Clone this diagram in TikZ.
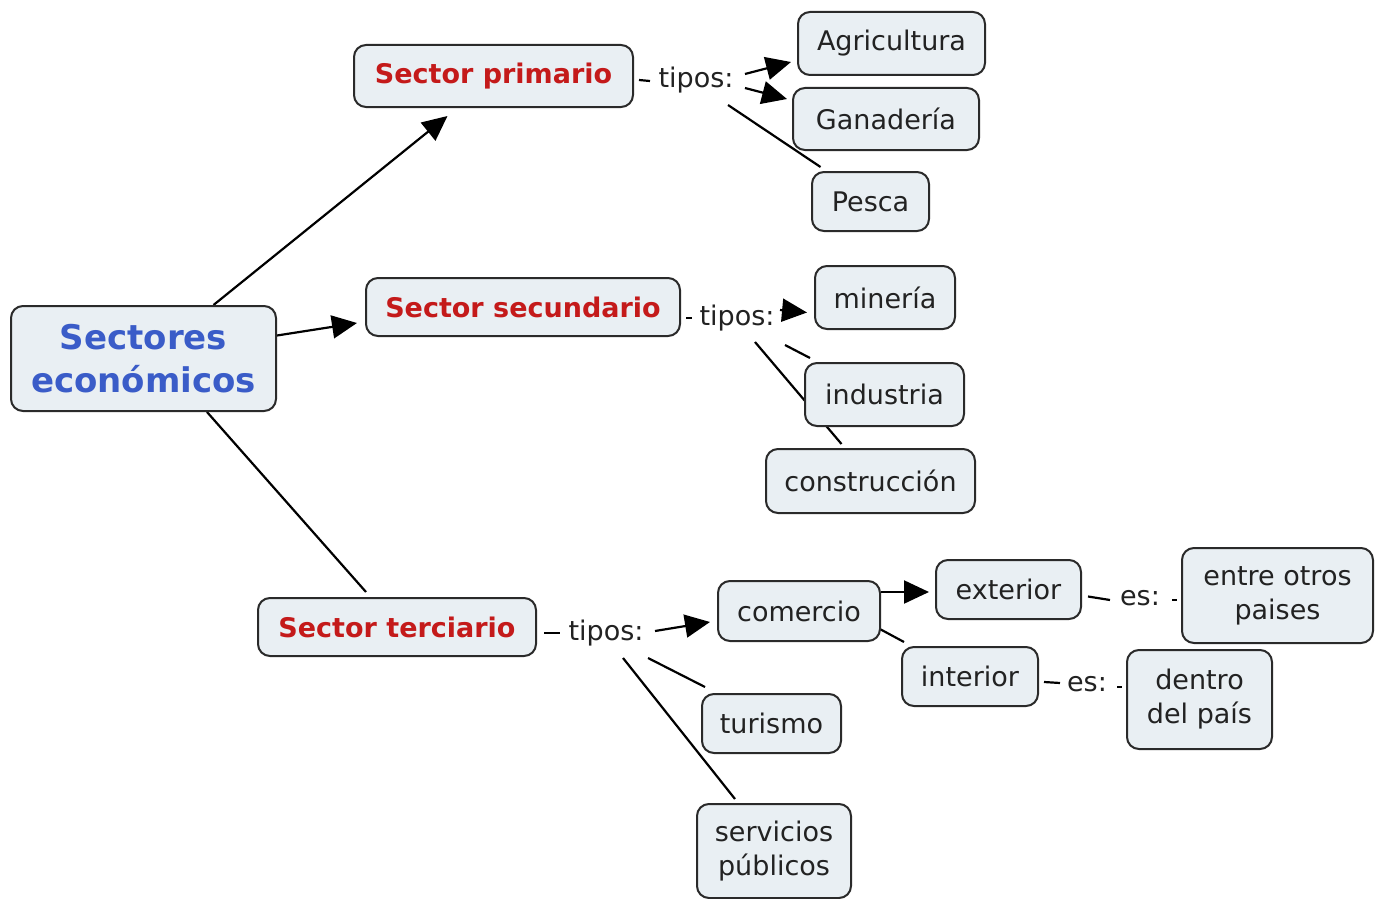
\documentclass[tikz,border=0pt]{standalone}
\usepackage{fontspec}
\setmainfont{DejaVu Sans}
\usetikzlibrary{arrows.meta,backgrounds}
\definecolor{boxfill}{HTML}{E9EFF3}
\definecolor{boxline}{HTML}{2A2A2A}
\definecolor{sred}{HTML}{C41A1A}
\definecolor{sblue}{HTML}{3A5CC8}
\definecolor{textgray}{HTML}{222222}
\begin{document}
\begin{tikzpicture}[x=1pt,y=-1pt,
  concept/.style={draw=boxline, line width=2pt, rounded corners=12pt, fill=boxfill,
    align=center, inner sep=0pt, font=\fontsize{27}{34}\selectfont, text=textgray},
  sector/.style={concept, font=\bfseries\fontsize{27}{34}\selectfont, text=sred},
  sz/.style 2 args={minimum width=#1, minimum height=#2},
  lnk/.style={font=\fontsize{27}{34}\selectfont, inner sep=1pt, text=textgray},
  conn/.style={draw=black, line width=2.2pt},
  arr/.style={conn, -{Triangle[length=25pt,width=23pt]}}]
\useasboundingbox (0,0) rectangle (1377,899);

% concepts
\node[concept, sz={265}{105}, font=\bfseries\fontsize{34}{43}\selectfont, text=sblue] (se) at (143.5,358.5) {Sectores\\económicos};
\node[sector, sz={279}{62}] (sp) at (493.5,76) {Sector primario};
\node[sector, sz={314}{58}] (ss) at (523,307) {Sector secundario};
\node[sector, sz={278}{58}] (st) at (397,627) {Sector terciario};

\node[concept, sz={187}{63}] (agri) at (891.5,43.5) {Agricultura};
\node[concept, sz={186}{62}] (gan) at (886,119) {Ganadería};
\node[concept, sz={117}{59}] (pesca) at (870.5,201.5) {Pesca};

\node[concept, sz={140}{63}] (min) at (885,297.5) {minería};
\node[concept, sz={159}{63}] (ind) at (884.5,394.5) {industria};
\node[concept, sz={209}{64}] (cons) at (870.5,481) {construcción};

\node[concept, sz={162}{60}] (com) at (799,611) {comercio};
\node[concept, sz={145}{59}] (ext) at (1008.5,589.5) {exterior};
\node[concept, sz={136}{59}] (int) at (970,676.5) {interior};
\node[concept, sz={191}{95}] (eop) at (1277.5,595.5) {entre otros\\paises};
\node[concept, sz={145}{99}] (dp) at (1199.5,699.5) {dentro\\del país};
\node[concept, sz={139}{59}] (tur) at (771.5,723.5) {turismo};
\node[concept, sz={154}{94}] (serv) at (774,851) {servicios\\públicos};

% linking phrases
\node[lnk] (t1) at (696,80) {tipos:};
\node[lnk] (t2) at (737,318) {tipos:};
\node[lnk] (t3) at (606,633) {tipos:};
\node[lnk] (e1) at (1140,598) {es:};
\node[lnk] (e2) at (1087,684) {es:};

\begin{scope}[on background layer]
\fill[white] (0,0) rectangle (1377,899);
% main
\draw[arr] ([xshift=70pt]se.north) -- ([xshift=-46pt,yshift=-8pt]sp.south);
\draw[arr] ([yshift=23pt]se.east) -- ([xshift=-8pt,yshift=-16pt]ss.west);
\draw[conn] ([xshift=63.5pt]se.south) -- ([xshift=-31pt,yshift=5pt]st.north);
% primario
\draw[conn] ([xshift=5pt,yshift=-4pt]sp.east) -- ([xshift=-46pt,yshift=-1pt]t1.center);
\draw[arr] ([xshift=49pt,yshift=6pt]t1.center) -- ([xshift=-6pt,yshift=-18.5pt]agri.west);
\draw[arr] ([xshift=49pt,yshift=-8pt]t1.center) -- ([xshift=-5pt,yshift=20pt]gan.west);
\draw[conn] ([xshift=32pt,yshift=-25pt]t1.center) -- ([xshift=-50pt,yshift=4pt]pesca.north);
% secundario
\draw[conn] ([xshift=5pt,yshift=-11pt]ss.east) -- ([xshift=-45pt]t2.center);
\draw[arr] ([xshift=43pt,yshift=8pt]t2.center) -- ([xshift=-7pt,yshift=-15pt]min.west);
\draw[conn] ([xshift=48pt,yshift=-27pt]t2.center) -- ([xshift=-74.5pt,yshift=36.5pt]ind.center);
\draw[conn] ([xshift=18pt,yshift=-24pt]t2.center) -- ([xshift=-29pt,yshift=4pt]cons.north);
% terciario
\draw[conn] ([xshift=7pt,yshift=-6pt]st.east) -- ([xshift=-46pt]t3.center);
\draw[arr] ([xshift=49pt,yshift=2pt]t3.center) -- ([xshift=-7pt,yshift=-11pt]com.west);
\draw[conn] ([xshift=42pt,yshift=-25pt]t3.center) -- ([xshift=-66.5pt,yshift=6pt]tur.north);
\draw[conn] ([xshift=17pt,yshift=-25pt]t3.center) -- ([xshift=-39pt,yshift=4pt]serv.north);
% comercio
\draw[arr] ([yshift=19pt]com.east) -- ([xshift=-6pt,yshift=-2.5pt]ext.west);
\draw[conn] ([xshift=-3pt,yshift=-17pt]com.east) -- ([xshift=3pt,yshift=34.5pt]int.west);
\draw[conn] ([xshift=6pt,yshift=-7pt]ext.east) -- ([xshift=-30pt,yshift=-2pt]e1.center);
\draw[conn] ([xshift=32pt,yshift=-2pt]e1.center) -- ([xshift=-4pt,yshift=-4.5pt]eop.west);
\draw[conn] ([xshift=5pt,yshift=-5.5pt]int.east) -- ([xshift=-27pt,yshift=1pt]e2.center);
\draw[conn] ([xshift=30pt,yshift=-3pt]e2.center) -- ([xshift=-4pt,yshift=12.5pt]dp.west);
\end{scope}
\end{tikzpicture}
\end{document}
